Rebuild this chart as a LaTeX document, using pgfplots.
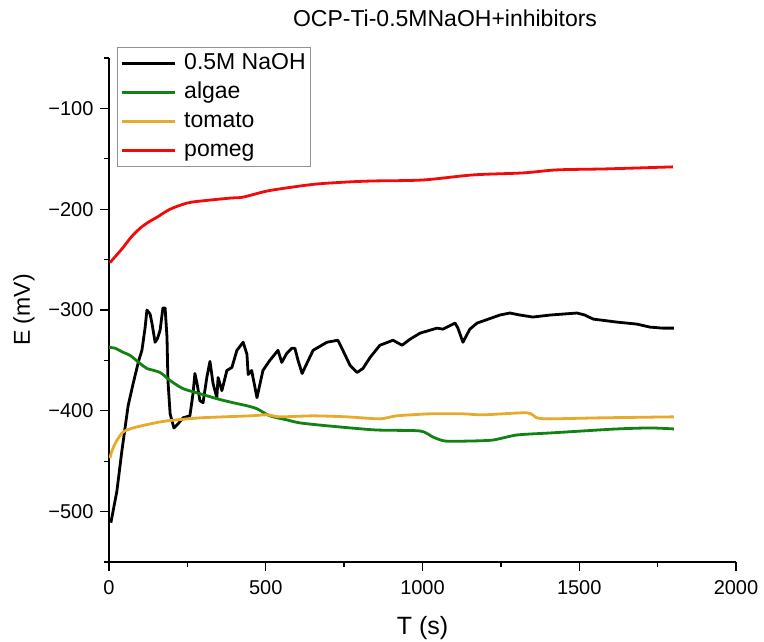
\documentclass[border=0pt]{standalone}
\usepackage{fontspec}
\setmainfont{Liberation Sans}
\usepackage{pgfplots}
\pgfplotsset{compat=1.18}
\definecolor{cgreen}{RGB}{18,130,18}
\definecolor{corange}{RGB}{232,170,42}
\definecolor{cred}{RGB}{245,8,8}
\begin{document}
\begin{tikzpicture}
\useasboundingbox (0,0) rectangle (764pt,642pt);
\begin{axis}[
 at={(109pt,80pt)}, anchor=south west,
 scale only axis, width=627pt, height=504pt,
 xmin=0, xmax=2000, ymin=-550, ymax=-50,
 axis x line*=bottom, axis y line*=left,
 axis line style={line width=1.4pt, -},
 tick align=outside,
 major tick length=9pt, minor tick length=5pt,
 every tick/.style={line width=1.3pt, black},
 xtick={0,500,1000,1500,2000}, xticklabels={0,500,1000,1500,2000},
 minor xtick={250,750,1250,1750},
 ytick={-500,-400,-300,-200,-100}, yticklabels={−500,−400,−300,−200,−100},
 minor ytick={-550,-450,-350,-250,-150,-50},
 tick label style={font=\fontsize{20}{24}\selectfont},
 xticklabel style={yshift=-6pt},
 yticklabel style={xshift=-3pt},
 xlabel={T (s)}, ylabel={E (mV)},
 xlabel style={font=\fontsize{25}{30}\selectfont, at={(axis description cs:0.5,-0.131)}, anchor=center},
 ylabel style={font=\fontsize{23}{27}\selectfont, at={(axis description cs:-0.1356,0.5)}, anchor=center, rotate=0},
 legend style={at={(axis description cs:0.0128,1.0218)}, anchor=north west, draw=gray!85, line width=0.8pt,
   font=\fontsize{23}{27}\selectfont, inner xsep=3pt, inner ysep=3pt, row sep=3pt, fill=white,
   nodes={text height=17pt, text depth=5pt, inner sep=2pt},
   /tikz/every odd column/.append style={column sep=6pt}},
 legend cell align=left,
 legend image code/.code={\draw[#1, line width=2.8pt] (0pt,0pt) -- (53pt,0pt);},
 every axis plot/.append style={line width=2.8pt, line join=round},
]
\addplot[black] coordinates {
(6,-511) (25,-480) (41,-440) (61,-395) (77,-373) (95,-350) (105,-340) (115,-318) (121,-300) (131,-304)
(137,-313) (147,-332) (155,-328) (163,-320) (172,-298) (179,-298) (185,-327) (188,-370) (195,-403) (207,-417)
(220,-413) (236,-407) (258,-405) (268,-383) (274,-363) (281,-373) (290,-390) (300,-392) (312,-367) (322,-351)
(332,-373) (344,-387) (348,-367) (360,-380) (376,-360) (392,-357) (408,-340) (428,-332) (440,-344) (444,-364)
(455,-360) (472,-387) (491,-360) (513,-350) (539,-340) (551,-352) (567,-343) (583,-338) (593,-338) (603,-350)
(616,-363) (625,-357) (651,-340) (695,-332) (730,-330) (746,-340) (769,-355) (791,-362) (810,-358) (833,-347)
(864,-335) (906,-330) (935,-335) (960,-329) (992,-323) (1046,-318) (1065,-319) (1104,-313) (1113,-318) (1129,-332)
(1151,-319) (1174,-313) (1247,-305) (1279,-303) (1311,-305) (1352,-307) (1407,-305) (1493,-303) (1518,-305) (1544,-309)
(1620,-312) (1684,-314) (1726,-317) (1767,-318) (1802,-318)
};
\addlegendentry{0.5M NaOH}
\addplot[cgreen, smooth, tension=0.4] coordinates {
(0,-337) (20,-338) (45,-342) (67,-345) (99,-353) (121,-358) (163,-362) (195,-370) (236,-378) (290,-383)
(344,-388) (396,-392) (440,-395) (472,-398) (513,-405) (567,-409) (609,-412) (700,-415) (850,-419) (992,-420)
(1033,-426) (1072,-430) (1150,-430) (1225,-429) (1301,-424) (1407,-422) (1512,-420) (1620,-418) (1726,-417) (1802,-418)
};
\addlegendentry{algae}
\addplot[corange, smooth, tension=0.4] coordinates {
(3,-447) (9,-440) (24,-430) (45,-421) (77,-417) (131,-413) (185,-410) (290,-407) (450,-405) (504,-404)
(545,-406) (651,-405) (759,-406) (864,-408) (918,-405) (1024,-403) (1129,-403) (1193,-404) (1333,-402) (1365,-407)
(1407,-408) (1566,-407) (1802,-406)
};
\addlegendentry{tomato}
\addplot[cred, smooth, tension=0.5] coordinates {
(3,-253) (20,-247) (45,-238) (70,-228) (99,-219) (125,-213) (153,-208) (195,-200) (248,-194) (290,-192) (386,-189) (428,-188) (504,-182)
(587,-178) (663,-175) (762,-173) (842,-172) (1002,-171) (1161,-166) (1321,-164) (1429,-161) (1588,-160) (1799,-158)
};
\addlegendentry{pomeg}
\end{axis}
\node[font=\fontsize{23}{27}\selectfont] at (445pt,624pt) {OCP-Ti-0.5MNaOH+inhibitors};
\end{tikzpicture}
\end{document}
